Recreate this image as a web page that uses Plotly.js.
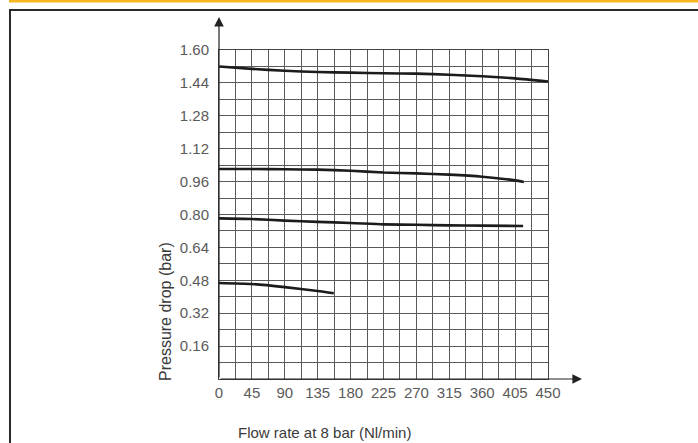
<!DOCTYPE html>
<html>
<head>
<meta charset="utf-8">
<script src="https://cdn.plot.ly/plotly-3.0.1.min.js"></script>
<style>html,body{margin:0;padding:0;background:#fff;}#chart{width:698px;height:443px;}</style>
</head>
<body>
<div id="chart"></div>
<script>
// ---- data ----
const flowA = [0, 45, 90, 135, 180, 225, 270, 315, 360, 405, 450];
const dropA = [1.520, 1.508, 1.499, 1.493, 1.490, 1.487, 1.485, 1.480, 1.472, 1.462, 1.447];

const flowB = [0, 45, 90, 135, 180, 225, 270, 315, 360, 405, 417];
const dropB = [1.021, 1.021, 1.020, 1.018, 1.013, 1.004, 1.000, 0.994, 0.984, 0.966, 0.958];

const flowC = [0, 45, 90, 135, 180, 225, 270, 315, 360, 416];
const dropC = [0.781, 0.778, 0.770, 0.764, 0.759, 0.752, 0.750, 0.747, 0.746, 0.744];

const flowD = [0, 45, 90, 135, 157];
const dropD = [0.467, 0.462, 0.447, 0.428, 0.417];

const xTicks = [0, 45, 90, 135, 180, 225, 270, 315, 360, 405, 450];
const yTicks = [0.16, 0.32, 0.48, 0.64, 0.80, 0.96, 1.12, 1.28, 1.44, 1.60];

// ---- layout geometry ----
const L = 219, T = 50, W = 329, H = 329;
const px = p => (p - L) / W;
const py = p => (T + H - p) / H;

const FONT = '"Liberation Sans Narrow", "Liberation Sans", Arial, sans-serif';
const lineStyle = {color: '#1c1c1c', width: 2.6, shape: 'spline', smoothing: 0.6};
const mk = (x, y) => ({x, y, type: 'scatter', mode: 'lines', line: lineStyle, hoverinfo: 'skip', showlegend: false});

const traces = [mk(flowA, dropA), mk(flowB, dropB), mk(flowC, dropC), mk(flowD, dropD)];

const layout = {
  width: 698, height: 443,
  margin: {l: L, r: 698 - L - W, t: T, b: 443 - T - H, pad: 0},
  paper_bgcolor: '#fff', plot_bgcolor: '#fff',
  showlegend: false,
  xaxis: {
    range: [0, 450], tickvals: xTicks, ticktext: xTicks.map(String),
    showgrid: true, gridcolor: '#5a5a5a', gridwidth: 1,
    minor: {dtick: 22.5, tick0: 0, showgrid: true, gridcolor: '#5a5a5a', gridwidth: 1},
    showline: true, mirror: true, linecolor: '#444', linewidth: 1,
    zeroline: false, ticks: '', ticklabelstandoff: 0,
    tickfont: {family: FONT, size: 15, color: '#5a5a5a'}, fixedrange: true
  },
  yaxis: {
    range: [0, 1.6], tickvals: yTicks, ticktext: yTicks.map(v => v.toFixed(2)),
    showgrid: true, gridcolor: '#5a5a5a', gridwidth: 1,
    minor: {dtick: 0.08, tick0: 0, showgrid: true, gridcolor: '#5a5a5a', gridwidth: 1},
    showline: true, mirror: true, linecolor: '#444', linewidth: 1,
    zeroline: false, ticks: '', ticklabelstandoff: 6,
    tickfont: {family: FONT, size: 15, color: '#5a5a5a'}, fixedrange: true
  },
  shapes: [
    {type: 'rect', xref: 'paper', yref: 'paper', x0: px(9), x1: px(700), y0: py(0), y1: py(2.5),
     fillcolor: '#F5B71E', line: {width: 0}, layer: 'above'},
    {type: 'line', xref: 'paper', yref: 'paper', x0: px(9), x1: px(700), y0: py(10), y1: py(10),
     line: {color: '#2a2a2a', width: 2}},
    {type: 'line', xref: 'paper', yref: 'paper', x0: px(10), x1: px(10), y0: py(9), y1: py(445),
     line: {color: '#2a2a2a', width: 2}}
  ],
  annotations: [
    {xref: 'paper', yref: 'paper', x: 0, y: py(17), ax: 0, ay: (T + H) - 17, text: '',
     showarrow: true, arrowhead: 2, arrowsize: 1.6, arrowwidth: 1.2, arrowcolor: '#222'},
    {xref: 'paper', yref: 'paper', x: px(582), y: 0, ax: -(582 - L), ay: 0, text: '',
     showarrow: true, arrowhead: 2, arrowsize: 1.6, arrowwidth: 1.2, arrowcolor: '#222'},
    {xref: 'paper', yref: 'paper', x: px(165), y: py(312), text: 'Pressure drop (bar)', textangle: -90,
     showarrow: false, xanchor: 'center', yanchor: 'middle',
     font: {family: FONT, size: 16, color: '#3a3a3a'}},
    {xref: 'paper', yref: 'paper', x: px(324), y: py(432), text: 'Flow rate at 8 bar (Nl/min)',
     showarrow: false, xanchor: 'center', yanchor: 'middle',
     font: {family: FONT, size: 15, color: '#3a3a3a'}}
  ]
};

Plotly.newPlot('chart', traces, layout, {displayModeBar: false, staticPlot: true});
</script>
</body>
</html>
